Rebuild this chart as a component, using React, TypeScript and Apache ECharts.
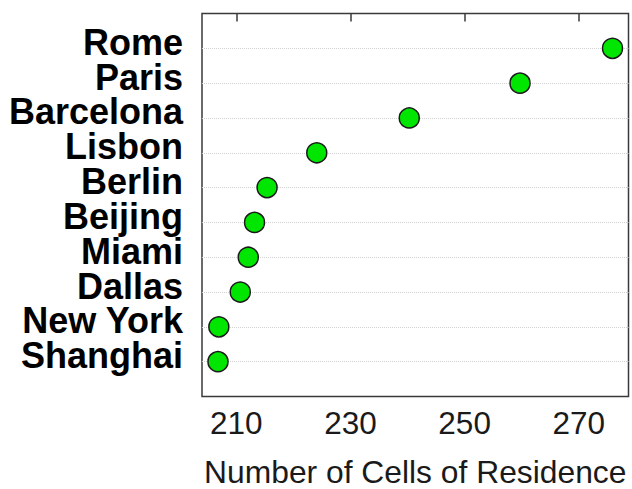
import React, { useEffect, useRef } from "react";
import * as echarts from "echarts";

// Cities from top row to bottom row
const cities = [
  "Rome",
  "Paris",
  "Barcelona",
  "Lisbon",
  "Berlin",
  "Beijing",
  "Miami",
  "Dallas",
  "New York",
  "Shanghai",
];

// Number of cells of residence per city (same order)
const cellCounts = [275.9, 259.7, 240.3, 224.1, 215.4, 213.2, 212.1, 210.7, 206.95, 206.8];

const xTicks = [210, 230, 250, 270];

const FONT = "'Liberation Sans', Arial, sans-serif";

export default function App() {
  const ref = useRef<HTMLDivElement>(null);

  useEffect(() => {
    if (!ref.current) return;
    const chart = echarts.init(ref.current, null, { renderer: "svg" });

    const points = cellCounts.map((v, i) => [v, i + 1]);

    chart.setOption({
      animation: false,
      backgroundColor: "#ffffff",
      grid: {
        left: 202,
        right: 3.5,
        top: 13.5,
        bottom: 92.5,
        outerBoundsMode: "none",
        containLabel: false,
        show: true,
        borderColor: "#3a3a3a",
        borderWidth: 1.5,
        backgroundColor: "transparent",
      },
      xAxis: {
        type: "value",
        min: 204,
        max: 278.7,
        name: "Number of Cells of Residence",
        nameLocation: "middle",
        nameGap: 59.5,
        nameTextStyle: { fontFamily: FONT, fontSize: 31.8, color: "#1a1a1a" },
        axisLine: { show: false },
        axisTick: {
          show: true,
          inside: false,
          length: 8,
          customValues: xTicks,
          lineStyle: { color: "#3a3a3a", width: 1.5 },
        },
        axisLabel: {
          customValues: xTicks,
          margin: 10,
          fontFamily: FONT,
          fontSize: 31.5,
          color: "#1a1a1a",
        },
        splitLine: { show: false },
      },
      yAxis: {
        type: "value",
        inverse: true,
        min: 0,
        max: cities.length + 1,
        interval: 1,
        axisLine: { show: false },
        axisTick: { show: false },
        axisLabel: {
          margin: 19,
          fontFamily: FONT,
          fontSize: 36,
          fontWeight: "bold",
          lineHeight: 12,
          verticalAlign: "bottom",
          color: "#000",
          formatter: (v: number) =>
            v >= 1 && v <= cities.length ? cities[v - 1] : "",
        },
        splitLine: {
          show: true,
          showMinLine: false,
          showMaxLine: false,
          lineStyle: { color: "#d2d2d2", type: "dotted", width: 1 },
        },
      },
      series: [
        {
          type: "scatter",
          data: points,
          symbol: "circle",
          symbolSize: 20,
          itemStyle: {
            color: "#00e600",
            borderColor: "#1a1a1a",
            borderWidth: 1.5,
            opacity: 1,
          },
        },
      ],
    });

    return () => chart.dispose();
  }, []);

  return (
    <div
      ref={ref}
      style={{ position: "fixed", left: 0, top: 0, width: 632, height: 489 }}
    />
  );
}
